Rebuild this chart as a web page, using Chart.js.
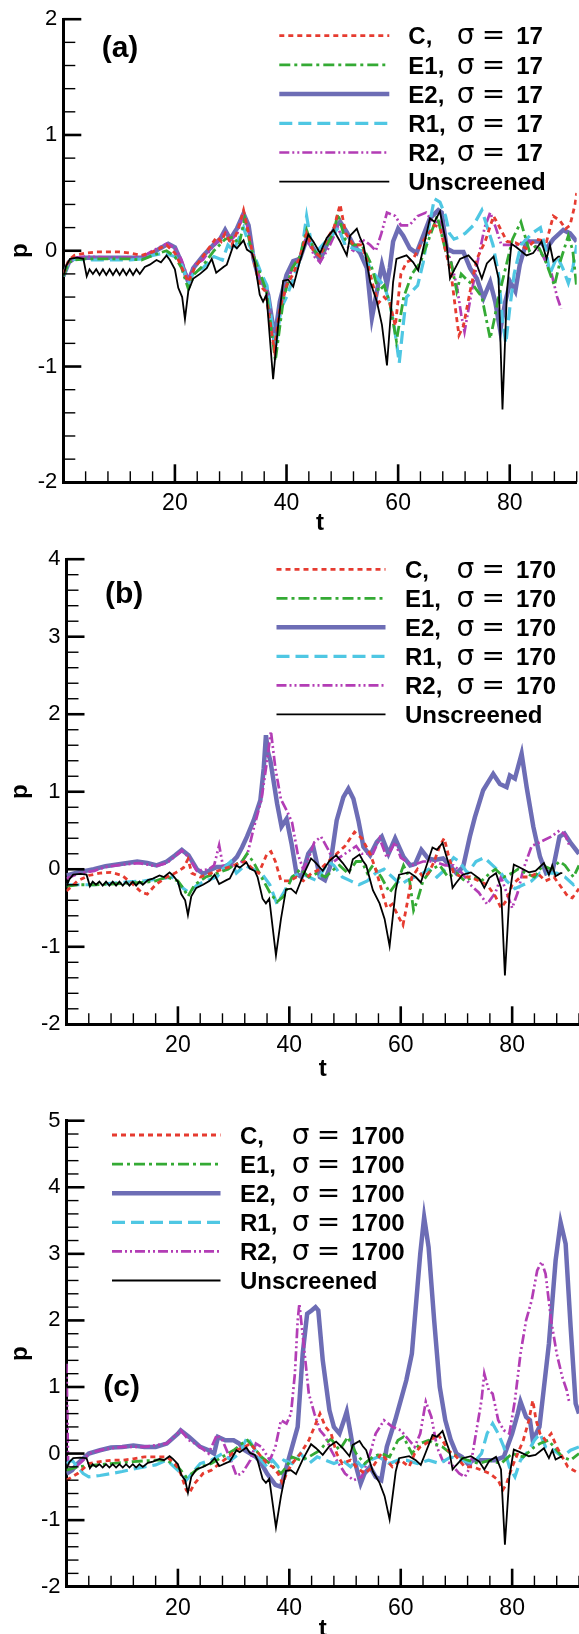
<!DOCTYPE html>
<html>
<head>
<meta charset="utf-8">
<script src="https://cdn.jsdelivr.net/npm/chart.js@4.4.0/dist/chart.umd.min.js"></script>
<style>
  body { margin: 0; background: #fff; width: 579px; height: 1634px; position: relative; overflow: hidden; }
  canvas { position: absolute; left: 0; }
</style>
</head>
<body>
<canvas id="chart-a" width="579" height="540" style="top:0px"></canvas>
<canvas id="chart-b" width="579" height="545" style="top:540px"></canvas>
<canvas id="chart-c" width="579" height="549" style="top:1085px"></canvas>
<script>
// ---- data: [t, p] pairs ----
const unscreened = [[0,-0.22],[0.5,-0.13],[1.2,-0.07],[2.5,-0.06],[3.6,-0.07],[4.2,-0.22],[4.7,-0.16],[5.3,-0.2],[5.9,-0.16],[6.5,-0.21],[7.1,-0.16],[7.7,-0.21],[8.3,-0.16],[8.9,-0.21],[9.5,-0.16],[10.1,-0.21],[10.7,-0.16],[11.3,-0.21],[11.9,-0.16],[12.5,-0.21],[13.1,-0.16],[13.7,-0.2],[14.6,-0.14],[15.5,-0.12],[16.7,-0.08],[17.5,-0.1],[18.5,-0.04],[19.1,-0.08],[20,-0.16],[20.6,-0.32],[21.3,-0.4],[21.8,-0.59],[22.4,-0.35],[23.3,-0.24],[24.5,-0.2],[25.7,-0.15],[26.6,-0.07],[27.4,-0.19],[28.7,-0.14],[29.3,-0.12],[30.5,0.05],[31.1,0.02],[32.3,0.09],[32.9,0.01],[33.8,-0.02],[34.3,-0.1],[35.2,-0.38],[35.8,-0.44],[36.4,-0.38],[37.6,-1.11],[38.5,-0.64],[39.4,-0.26],[40.3,-0.25],[41.2,-0.31],[42.4,-0.09],[43.9,0.14],[44.8,0.08],[46,-0.02],[47.2,0.11],[48.4,0.18],[49.6,0.08],[50.8,-0.04],[51.4,0.13],[52.6,0.19],[53.2,0.11],[53.8,0.05],[55,-0.27],[56.2,-0.44],[57.1,-0.64],[58,-0.99],[59.1,-0.27],[59.7,-0.07],[61.5,-0.04],[62.7,-0.1],[63.6,-0.17],[64.5,0.02],[65.7,0.28],[66.5,0.25],[67.5,0.34],[68.1,0.19],[68.7,0.05],[69.3,-0.24],[69.9,-0.18],[71.1,-0.07],[72.6,-0.04],[74.1,-0.12],[75,-0.24],[75.9,-0.11],[77.1,-0.05],[78,-0.24],[78.7,-1.37],[79.5,-0.35],[80.3,0.06],[81.2,0.03],[83,-0.04],[84.2,-0.02],[85.7,0.08],[86.6,-0.07],[87.2,0.05],[87.8,-0.09],[88.7,-0.05],[89,-0.05]];

// panel (a), sigma = 17
const aC = [[0,-0.2],[1,-0.08],[2,-0.04],[4,-0.02],[6,-0.01],[8,-0.01],[10,-0.01],[12,-0.02],[14,-0.04],[16,-0.01],[18.5,0.05],[20,-0.02],[21,-0.12],[22.4,-0.27],[23.5,-0.15],[25,-0.05],[26.5,0.05],[27.5,0.12],[28.3,0.08],[29,0.15],[30.2,0.05],[31.3,0.18],[32.3,0.35],[33.2,0.15],[34.2,-0.1],[35.2,-0.3],[36.2,-0.35],[37.8,-0.85],[38.8,-0.5],[40,-0.3],[41.2,-0.2],[42.4,-0.05],[43.6,0.15],[44.8,0],[46,-0.05],[47.2,0.1],[48.5,0.2],[49.6,0.4],[50.6,0.15],[52,0.05],[53.5,0.05],[54.5,-0.1],[55.5,-0.3],[56.5,-0.45],[57.5,-0.4],[58.5,-0.45],[59.5,-0.65],[60.5,-0.2],[61.5,-0.1],[62.7,-0.07],[64,0.05],[65.5,0.15],[66.5,0.22],[67.5,0.2],[68.5,0],[69.5,-0.2],[70.4,-0.55],[70.9,-0.73],[71.7,-0.65],[72.9,-0.35],[74.1,-0.07],[75.6,0.08],[77.1,0.3],[78,0.22],[79.5,0.08],[81,0.07],[83,0.02],[84.8,0.1],[86.6,0.08],[87.8,0.3],[89,0.26],[90,0.19],[90.8,0.22],[91.7,0.4],[92,0.5]];
const aE1 = [[0,-0.22],[1,-0.1],[2,-0.08],[4,-0.07],[8,-0.07],[12,-0.07],[14,-0.08],[16,-0.04],[18.5,0],[20,-0.05],[21.2,-0.15],[22.4,-0.33],[23.5,-0.2],[25,-0.13],[27,0],[29,0.1],[30.5,0.12],[31.5,0.05],[32.5,0.28],[33.5,0.05],[34.5,-0.1],[35.3,-0.2],[36.4,-0.35],[38,-0.95],[39.5,-0.4],[41,-0.15],[42.4,-0.05],[43.6,0.18],[45,0],[46,-0.05],[47.2,0.05],[48.4,0.15],[49.2,0.32],[50.5,0.1],[52,0.05],[53.5,0.05],[55,-0.1],[56.5,-0.35],[57.5,-0.3],[58.5,-0.45],[59.7,-0.78],[61,-0.4],[62.5,-0.2],[64,-0.1],[65.5,0.1],[67,0.3],[68.5,0],[69.5,-0.1],[70.5,-0.35],[71.3,-0.2],[72.3,-0.25],[73.5,-0.3],[75,-0.4],[76.5,-0.76],[77.2,-0.6],[78,-0.4],[79.5,-0.1],[80.5,0.1],[82,0.25],[83.5,0],[85,0.05],[86.5,-0.1],[88,-0.3],[89,-0.1],[90.5,0.13],[91.3,0],[92,-0.32]];
const aE2 = [[0,-0.22],[1,-0.1],[1.8,-0.07],[4,-0.06],[8,-0.06],[12,-0.06],[14,-0.06],[16,-0.02],[17.3,0.02],[18.8,0.06],[20,0.03],[20.9,-0.07],[22.4,-0.27],[23.3,-0.15],[25.1,-0.04],[26.9,0.05],[28.1,0.1],[29,0.18],[29.9,0.1],[31.1,0.19],[32.3,0.32],[33.2,0.22],[34.1,-0.07],[35.2,-0.27],[36.1,-0.29],[36.7,-0.38],[37.9,-0.75],[38.8,-0.44],[40,-0.21],[41.2,-0.09],[42.4,-0.07],[43.6,0.1],[44.8,0.02],[46,-0.08],[47.2,0.05],[48.7,0.2],[49.6,0.25],[50.8,0.16],[52,0.05],[53.2,-0.02],[54.4,-0.15],[55.3,-0.58],[56.2,-0.35],[57.1,-0.12],[58,-0.29],[58.5,-0.15],[59.1,0.08],[60,0.19],[60.9,0.13],[62.1,0.02],[63.3,-0.02],[64.5,0.13],[65.7,0.28],[67.2,0.35],[67.8,0.33],[68.7,0.02],[69.9,-0.01],[71.7,-0.01],[72.9,-0.15],[74.1,-0.24],[75.3,-0.41],[76.5,-0.27],[77.4,-0.44],[78.3,-0.69],[79.2,-0.44],[80.1,-0.27],[81,-0.35],[81.8,-0.12],[83,0.08],[85.4,0.08],[86.6,0.02],[87.8,0.1],[89.6,0.18],[90.8,0.15],[92,0.08]];
const aR1 = [[0,-0.22],[1,-0.1],[2,-0.07],[4,-0.08],[8,-0.08],[12,-0.08],[14,-0.07],[16,-0.04],[18,-0.02],[20,-0.05],[21.2,-0.12],[22.4,-0.28],[23.5,-0.18],[25,-0.15],[27,-0.05],[28.5,-0.08],[29.5,0.05],[30.5,0],[32.3,0.2],[33.3,0.05],[34.3,-0.05],[35.5,-0.2],[36.5,-0.3],[38,-0.85],[39,-0.5],[40,-0.4],[41.5,-0.2],[42.6,-0.05],[43.6,0.3],[44.5,0.05],[45.5,0],[47,0.08],[48.5,0.15],[49.3,0.2],[50.5,0.05],[52,0.02],[53.5,0],[55,-0.15],[56.5,-0.25],[57.5,-0.3],[58.5,-0.45],[59.3,-0.65],[60.2,-0.97],[61,-0.6],[61.5,-0.4],[62.5,-0.35],[63.5,-0.3],[64.5,-0.1],[65.5,0.2],[66.5,0.45],[67.5,0.42],[68.5,0.3],[69.2,0.15],[70,0.1],[71,0.12],[72,0.15],[73.5,0.22],[75,0.35],[76,0.2],[77,0.05],[78,-0.2],[78.7,-0.6],[79.3,-0.8],[80,-0.5],[80.8,-0.2],[82,0.05],[84,0.15],[85.5,0.2],[86.5,0],[87.2,-0.2],[88.5,-0.05],[89.5,-0.15],[90.5,-0.28],[91.3,-0.15],[92,0.05]];
const aR2 = [[0,-0.22],[1,-0.1],[2,-0.06],[4,-0.05],[8,-0.06],[12,-0.06],[14,-0.06],[16,0],[18.5,0.06],[20,0.03],[21.2,-0.08],[22.4,-0.25],[23.5,-0.12],[25,-0.08],[27,0.05],[28,0.1],[29,0.17],[30.2,0.1],[31.2,0.15],[32.3,0.33],[33.3,0.15],[34.3,-0.1],[35.5,-0.28],[36.5,-0.35],[37.9,-0.85],[39,-0.5],[40,-0.3],[41,-0.15],[42.4,-0.05],[43.6,0.13],[45,-0.05],[46,-0.1],[47.5,0.02],[49.2,0.2],[50.5,0.05],[52,0],[53.5,0.1],[55,0.05],[56,0],[57,0.15],[58,0.33],[59.5,0.3],[60.5,0.22],[62,0.22],[63.5,0.3],[65,0.33],[66.2,0.25],[67.5,0.25],[68.5,0.05],[69.5,-0.1],[70.5,-0.3],[71.3,-0.55],[71.9,-0.7],[73,-0.4],[74,-0.15],[75.5,0.2],[76.5,0.33],[77.5,0.2],[78.5,0.05],[80,0.05],[81.5,0.05],[83,0.1],[84.5,0.05],[86,-0.05],[87.5,-0.2],[88.5,-0.4],[89.2,-0.5]];

// panel (b), sigma = 170
const bC = [[0,-0.28],[2,-0.15],[4,-0.08],[6,-0.05],[8,-0.04],[10,-0.08],[12,-0.2],[13.5,-0.3],[14.5,-0.32],[16,-0.2],[18,-0.1],[19.5,-0.05],[21,0.02],[21.8,0.13],[22.5,-0.05],[24,-0.1],[26,-0.05],[28,0],[30,0.05],[32,0.1],[33.5,0],[34.5,-0.05],[36,0.2],[36.7,0.23],[37.5,0.1],[38.5,-0.15],[40,-0.15],[41.3,-0.1],[42.5,-0.15],[44,-0.05],[45.5,0],[47,0.1],[48.5,0.2],[50,0.3],[51.7,0.48],[53,0.4],[54.5,0.2],[55.5,0],[56.5,-0.25],[57.5,-0.5],[58.5,-0.45],[59.5,-0.6],[60.4,-0.72],[61,-0.5],[62,-0.1],[63,0],[64,-0.1],[65,-0.05],[66,0.1],[67,0.3],[67.8,0.4],[68.5,0.2],[69.5,-0.05],[71,-0.1],[72.5,-0.1],[74,-0.15],[75.5,-0.2],[77,-0.35],[78,-0.5],[79,-0.4],[80,-0.2],[81.5,-0.1],[83,-0.1],[84.5,-0.05],[86,-0.15],[87.5,-0.1],[88.5,-0.2],[90,-0.35],[90.8,-0.37],[92,-0.25]];
const bE1 = [[0,-0.22],[2,-0.2],[5,-0.2],[8,-0.19],[11,-0.18],[14,-0.17],[16,-0.15],[18,-0.1],[20,-0.15],[21,-0.25],[21.8,-0.35],[23,-0.2],[25,-0.1],[27,-0.05],[29,0],[30,0.05],[31.5,0.1],[32.4,0.2],[33.5,0.1],[35,-0.1],[36.5,-0.3],[37.8,-0.42],[39,-0.35],[40.5,-0.1],[42,0],[43.5,-0.1],[45,-0.05],[46.5,-0.1],[48,0],[49,0.05],[50.5,-0.05],[52,0.1],[53,0.1],[54,-0.05],[55,0.05],[56.5,-0.1],[58,-0.3],[59.5,-0.15],[60.5,0.05],[61.5,-0.1],[62.3,-0.53],[63,-0.4],[64,-0.15],[65.5,0],[67,0.05],[68.5,-0.1],[70,-0.05],[71.5,-0.15],[73,-0.1],[74.5,-0.15],[76,-0.05],[77,0],[78.5,-0.1],[80,-0.05],[81,0],[82.5,-0.05],[84,-0.1],[85.5,0.05],[87,0],[88.5,0.1],[89.5,0.05],[91,-0.1],[92,0.05]];
const bE2 = [[0,-0.08],[2,-0.04],[4.9,0],[7,0.04],[10,0.07],[12.7,0.1],[14.5,0.08],[16.2,0.05],[18,0.1],[19.5,0.18],[20.7,0.25],[21.9,0.18],[23.4,0],[24.6,-0.06],[25.8,-0.01],[27,0.03],[28.2,0.03],[29.4,0.07],[30.6,0.16],[31.5,0.28],[32.4,0.42],[33.6,0.63],[34.8,0.89],[35.4,1.3],[35.8,1.73],[36.2,1.5],[36.6,1.4],[37.8,0.85],[38.6,0.55],[39.5,0.65],[40.4,0.33],[41.3,-0.06],[42.2,-0.1],[43.4,0.2],[44.3,0.29],[45.5,-0.1],[46.4,-0.14],[47.3,0.03],[48.5,0.63],[49.7,0.93],[50.6,1.04],[51.5,0.91],[52.4,0.63],[53.3,0.29],[54.5,0.18],[55.7,0.35],[56.6,0.42],[57.8,0.2],[59,0.4],[60.5,0.16],[61.7,0.05],[62.6,0.07],[63.7,0.25],[64.9,0.14],[66.1,0.12],[67.6,0.14],[68.8,0.05],[70,-0.05],[71.2,0.03],[72.4,0.42],[73.3,0.67],[74.8,1.02],[76.6,1.23],[77.8,1.1],[79,1.06],[79.6,1.21],[80.5,1.17],[81.7,1.49],[82.6,1.06],[83.8,0.55],[85,0.16],[86.1,-0.05],[87.3,-0.01],[88.5,0.42],[89.4,0.46],[90.6,0.33],[92,0.2]];
const bR1 = [[0,-0.2],[2,-0.2],[5,-0.2],[10,-0.17],[14,-0.15],[17,-0.12],[19,-0.1],[21,-0.25],[22,-0.3],[23.5,-0.2],[25,-0.15],[27,-0.1],[28,0],[29.5,0.1],[30.5,-0.05],[32,0.05],[33.5,0],[35,-0.05],[36.5,-0.2],[37.8,-0.45],[39,-0.3],[40.5,-0.1],[42,-0.05],[43.5,-0.1],[45,-0.15],[47,0.1],[48,0.05],[49.5,-0.1],[51,-0.15],[52.5,-0.2],[54,-0.15],[55.5,-0.05],[57,0],[58.5,-0.1],[60,-0.2],[61,-0.15],[62.5,-0.1],[64,-0.05],[65,0],[66.5,-0.1],[68,0],[69.5,0.15],[70.5,0.1],[72,-0.05],[73.5,0.1],[75,0.15],[76.5,0.05],[78,-0.05],[79,-0.15],[80.5,-0.25],[82,-0.2],[83.5,-0.15],[85,-0.05],[86.5,-0.05],[88,-0.05],[89.5,-0.1],[91,-0.2],[92,-0.15]];
const bR2 = [[0,-0.12],[2,-0.06],[5,-0.02],[7,0.03],[10,0.06],[13,0.08],[16,0.04],[18,0.08],[20.7,0.24],[22,0.15],[23.4,-0.02],[25.5,0],[26.5,0.05],[27.4,0.31],[28.2,0],[30,0.05],[31.5,0.1],[32.5,0.2],[33.5,0.5],[35,0.9],[36,1.4],[36.7,1.78],[37.5,1.3],[38.5,0.9],[39.6,0.75],[40.5,0.6],[41.5,0.2],[42.5,0],[43.5,0.15],[44.5,0.35],[45.7,0.42],[47,0.25],[48,0.1],[50,0.2],[52,0.3],[53,0.2],[55,0.2],[56.2,0.4],[57.5,0.15],[59,0.35],[60,0.15],[62,0.05],[64,0.1],[66,0.1],[68,0.05],[69.5,0.05],[71,-0.05],[72.5,-0.2],[74,-0.3],[75.5,-0.45],[77,-0.3],[78,-0.1],[79,-0.3],[80,-0.5],[81,-0.3],[82,0],[83.5,0.3],[85,0.35],[87,0.42],[88.5,0.5],[89.5,0.45],[90.3,0.3]];

// panel (c), sigma = 1700
const cC = [[0,-0.4],[2,-0.3],[4,-0.15],[6,-0.12],[8,-0.1],[10,-0.1],[12,-0.08],[14,-0.05],[16,-0.05],[18,-0.05],[19.5,-0.15],[20.5,-0.3],[21.5,-0.55],[22,-0.6],[23,-0.45],[24.5,-0.3],[26,-0.25],[27.5,-0.15],[29,-0.05],[30.5,0.05],[32,0.1],[33,0.15],[34,0.05],[35,-0.05],[36,-0.15],[37,-0.2],[38,-0.3],[38.8,-0.45],[39.5,-0.3],[40.5,-0.15],[42,0],[43.5,0.2],[44.5,0.4],[45.5,0.6],[46.5,0.4],[47.5,0.3],[48.5,0],[49.5,-0.15],[51,-0.1],[52,-0.2],[53.5,-0.3],[55,-0.2],[56.5,0],[57.5,-0.1],[58.5,-0.2],[60,-0.1],[61.5,-0.2],[62.5,0],[63.5,0.1],[64.5,0.15],[65.5,0.2],[66.5,0.3],[67.5,0.2],[68.5,0.05],[70,-0.05],[71.5,-0.2],[73,-0.2],[74.5,-0.25],[76,-0.3],[77.5,-0.4],[78.3,-0.55],[79,-0.45],[80,-0.2],[81,0],[82,0.2],[83,0.5],[83.7,0.8],[84.3,0.5],[85,0.3],[86,0.2],[87,0.3],[88,0.1],[89,-0.05],[90,-0.2],[91,-0.25],[92,-0.3]];
const cE1 = [[0,-0.25],[2,-0.2],[4,-0.18],[8,-0.15],[12,-0.12],[16,-0.1],[18,-0.1],[20,-0.2],[21.5,-0.35],[22.5,-0.3],[24,-0.2],[26,-0.15],[28,-0.05],[30,0.05],[31.5,0.15],[32.5,0.2],[33.5,0.1],[35,-0.05],[36.5,-0.15],[38.5,-0.3],[39.5,-0.2],[40.5,-0.05],[42,-0.1],[43.5,-0.05],[45.5,0.05],[46.5,0.15],[47.5,0.22],[49,0.05],[50.5,0.25],[52,0],[53.5,-0.15],[55,-0.05],[56.5,0],[58,-0.05],[59.5,0.2],[60.5,0.25],[62,0],[63.5,0.15],[65,0.2],[66,0.15],[67.5,0.1],[69,0],[70.5,-0.05],[72,-0.1],[74,-0.15],[76,-0.1],[78,-0.15],[80,0],[82,-0.05],[84,0.1],[85,0.15],[86.5,0.2],[87.5,0.1],[89,-0.05],[90.5,-0.1],[92,0]];
const cE2 = [[0,-0.3],[1,-0.25],[2,-0.15],[4,0],[6,0.05],[8,0.09],[10,0.1],[12,0.12],[14,0.1],[16,0.1],[18,0.15],[20,0.3],[20.5,0.35],[22,0.25],[24,0.1],[25.5,0.05],[26.5,0],[27.2,0.25],[28.5,0.2],[30,0.2],[31,0.15],[32,0.05],[33,0],[34,-0.05],[35,-0.15],[36,-0.3],[37.5,-0.47],[38.5,-0.5],[39.5,-0.2],[40.5,0.1],[41.5,0.4],[42.4,1.5],[43.2,2.1],[44,2.15],[44.7,2.2],[45.2,2.15],[46,1.4],[47.2,0.65],[48,0.4],[49,0.3],[50,0.55],[50.3,0.63],[51,0.3],[52,-0.2],[52.8,-0.45],[53.5,-0.3],[54.5,-0.2],[55.5,-0.35],[56.5,-0.4],[57.5,0.1],[59,0.5],[60,0.8],[61,1.1],[62,1.5],[63,2.5],[63.5,3],[64.2,3.55],[65,3.1],[66,2],[67,1],[68,0.5],[69,0.2],[70,0],[71,-0.05],[72,-0.15],[73,-0.1],[75,-0.1],[77,-0.1],[78.5,-0.05],[80,0.3],[81,0.6],[81.5,0.78],[82.5,0.55],[83.2,0.5],[83.7,0.2],[84.9,0.4],[86.6,1.65],[87.8,2.9],[88.7,3.47],[89.6,3.15],[90.5,1.9],[91.4,0.75],[92,0.6]];
const cR1 = [[0,-0.15],[1,-0.1],[2,-0.2],[3,-0.3],[4,-0.35],[6,-0.33],[8,-0.3],[10,-0.27],[12,-0.23],[14,-0.2],[16,-0.17],[18,-0.1],[20,-0.25],[21.5,-0.4],[22.5,-0.3],[24,-0.15],[26,-0.1],[28,0],[29.5,-0.1],[31,0],[32.5,0.25],[33.5,0.1],[35,-0.1],[36,-0.2],[37,-0.1],[38,-0.2],[39,-0.1],[40.5,-0.15],[42,0],[43.5,-0.15],[45,-0.05],[46.5,-0.1],[48,-0.15],[49.5,-0.1],[51,-0.2],[52,-0.1],[53,-0.2],[54.5,-0.1],[56,-0.05],[58,-0.15],[59.5,-0.1],[61,-0.1],[63,-0.15],[65,-0.1],[67,-0.15],[69,-0.05],[71,-0.1],[73,-0.15],[74.5,0],[75.5,0.3],[76.5,0.45],[77.5,0.3],[78.5,0.1],[79.5,-0.2],[80.5,-0.35],[81.5,-0.1],[83,0.05],[84,0.2],[85,0.3],[86,0.1],[87.5,0.05],[89,-0.05],[90.5,0.05],[92,0.1]];
const cR2 = [[0,1.35],[0.3,-0.2],[1,-0.25],[3,-0.1],[4,0],[6,0.05],[8,0.08],[10,0.1],[14,0.1],[18,0.15],[20.5,0.35],[22,0.2],[24,0.1],[25.5,0],[27,0.28],[28,0.2],[29.5,-0.1],[30.5,-0.33],[31.5,-0.3],[33,-0.1],[34,0.15],[35,0.1],[36.5,-0.1],[37.5,0.1],[38.5,0.5],[39.5,0.45],[40.3,0.6],[41,1.2],[41.5,2],[41.8,2.25],[42.5,1.7],[43.5,0.9],[44.5,0.6],[45.5,0.35],[46.5,0.25],[47.5,0.05],[48.5,-0.1],[50,-0.3],[51.5,-0.4],[53,-0.35],[54.5,0],[55.5,0.3],[57,0.5],[58.5,0.4],[60,0.35],[61.5,0.2],[62.5,0.1],[63.5,0.3],[64.5,0.78],[65.5,0.55],[66.5,0.1],[67.5,-0.1],[69,-0.15],[70.5,-0.3],[71.5,-0.35],[72.5,-0.2],[73.5,0.3],[74.5,0.8],[75,1.2],[75.8,0.95],[76.5,0.9],[77.5,0.5],[78.5,0.35],[79.5,0.3],[80.5,0.8],[81.5,1.5],[82.5,2],[83.5,2.3],[84.5,2.75],[85.3,2.88],[86,2.7],[87,2],[88,1.5],[89,1.15],[89.8,0.95],[90.3,0.75]];

const tTicks = [20, 40, 60, 80];
const pTicksA = [-2, -1, 0, 1, 2];
const pTicksB = [-2, -1, 0, 1, 2, 3, 4];
const pTicksC = [-2, -1, 0, 1, 2, 3, 4, 5];
const seriesNames = ['C,', 'E1,', 'E2,', 'R1,', 'R2,', 'Unscreened'];

// ---- styles ----
const FONT = "'Liberation Sans', Arial, sans-serif";
const styles = [
  { color: '#e63b30', width: 2.8, dash: [5, 4], order: 1 },
  { color: '#34aa34', width: 2.8, dash: [11, 4, 3, 4], order: 2 },
  { color: '#6d6db5', width: 4.5, dash: [], order: 5 },
  { color: '#4fc7e3', width: 3.2, dash: [13, 6], order: 3 },
  { color: '#b33db5', width: 2.7, dash: [10, 3, 2, 3, 2, 3], order: 4 },
  { color: '#000000', width: 1.8, dash: [], order: 0 },
];

function decor(cfg) {
  return {
    id: 'decor',
    afterDraw(chart) {
      const { ctx, chartArea: area, scales: { x, y } } = chart;
      ctx.save();
      ctx.strokeStyle = '#000';
      // inward tick marks
      for (let t = 4; t <= 92; t += 4) {
        const px = x.getPixelForValue(t);
        const major = t % 20 === 0;
        ctx.lineWidth = major ? 2.6 : 1.4;
        ctx.beginPath();
        ctx.moveTo(px, area.bottom);
        ctx.lineTo(px, area.bottom - (major ? 18 : 11));
        ctx.stroke();
      }
      const n = Math.round((y.max - y.min) / 0.2);
      for (let k = 1; k <= n; k++) {
        const py = y.getPixelForValue(y.min + k * 0.2);
        const major = k % 5 === 0;
        ctx.lineWidth = major ? 2.6 : 1.4;
        ctx.beginPath();
        ctx.moveTo(area.left, py);
        ctx.lineTo(area.left + (major ? 18 : 12), py);
        ctx.stroke();
      }
      // legend
      const L = cfg.legend;
      chart.data.datasets.forEach((ds, i) => {
        const ry = L.top + i * L.step;
        ctx.strokeStyle = ds.borderColor;
        ctx.lineWidth = ds.borderWidth;
        ctx.setLineDash(ds.borderDash || []);
        ctx.beginPath();
        ctx.moveTo(L.x0, ry);
        ctx.lineTo(L.x1, ry);
        ctx.stroke();
        ctx.setLineDash([]);
        ctx.fillStyle = '#000';
        ctx.textBaseline = 'alphabetic';
        ctx.textAlign = 'left';
        const base = ry + 8.6;
        ctx.font = 'bold 24px ' + FONT;
        ctx.fillText(ds.label, L.name, base);
        if (i < 5) {
          ctx.font = "28px 'DejaVu Sans', sans-serif";
          ctx.fillText('σ', L.sigma, base);
          ctx.fillText('=', L.sigma + 25, base);
          ctx.font = 'bold 24px ' + FONT;
          ctx.fillText(cfg.sigma, L.sigma + 59.5, base);
        }
      });
      // panel label
      ctx.font = 'bold 30px ' + FONT;
      ctx.fillText(cfg.tag, cfg.tagX, cfg.tagY);
      ctx.restore();
    }
  };
}

function makePanel(id, cfg) {
  const datasets = cfg.series.map((s, i) => ({
    label: seriesNames[i],
    data: s.map(([t, p]) => ({ x: t, y: p })),
    borderColor: styles[i].color,
    borderWidth: styles[i].width,
    borderDash: styles[i].dash,
    order: styles[i].order,
    pointRadius: 0,
    fill: false,
    tension: 0,
  }));
  new Chart(document.getElementById(id), {
    type: 'line',
    data: { datasets },
    options: {
      responsive: false,
      animation: false,
      events: [],
      layout: { padding: { top: cfg.padTop, right: cfg.padRight, left: 0, bottom: 0 } },
      plugins: { legend: { display: false }, tooltip: { enabled: false } },
      scales: {
        x: {
          type: 'linear', min: 0, max: 92,
          afterBuildTicks: s => { s.ticks = tTicks.map(v => ({ value: v })); },
          afterFit: s => { s.height = cfg.xHeight; },
          grid: { display: false, drawTicks: false },
          border: { display: true, width: 3, color: '#000' },
          ticks: { color: '#000', font: { family: FONT, size: 23 }, padding: 8, maxRotation: 0, autoSkip: false },
          title: { display: true, text: 't', color: '#000', font: { family: FONT, size: 24, weight: 'bold' }, padding: { top: 0, bottom: cfg.tPad } },
        },
        y: {
          type: 'linear', min: cfg.pTicks[0], max: cfg.pTicks[cfg.pTicks.length - 1],
          afterBuildTicks: s => { s.ticks = cfg.pTicks.map(v => ({ value: v })); },
          afterFit: s => { s.width = cfg.axisX; },
          grid: { display: false, drawTicks: false },
          border: { display: true, width: 3, color: '#000' },
          ticks: { color: '#000', font: { family: FONT, size: 22 }, padding: 6, autoSkip: false },
          title: { display: true, text: 'p', color: '#000', font: { family: FONT, size: 24, weight: 'bold' }, padding: { top: 6, bottom: 0 } },
        },
      },
    },
    plugins: [decor(cfg)],
  });
}

makePanel('chart-a', {
  series: [aC, aE1, aE2, aR1, aR2, unscreened], pTicks: pTicksA, sigma: '17',
  padTop: 15.7, padRight: 2.3, axisX: 63.3, xHeight: 540 - 482.3, tPad: 2,
  legend: { x0: 279.3, x1: 389.3, top: 35.7, step: 29.2, name: 408.3, sigma: 456.7 },
  tag: '(a)', tagX: 101.7, tagY: 57,
});
makePanel('chart-b', {
  series: [bC, bE1, bE2, bR1, bR2, unscreened], pTicks: pTicksB, sigma: '170',
  padTop: 19, padRight: 0, axisX: 66.5, xHeight: 545 - 484.3, tPad: 1,
  legend: { x0: 276.5, x1: 385.5, top: 29.3, step: 29, name: 405, sigma: 456.5 },
  tag: '(b)', tagX: 105, tagY: 62.7,
});
makePanel('chart-c', {
  series: [cC, cE1, cE2, cR1, cR2, unscreened], pTicks: pTicksC, sigma: '1700',
  padTop: 35.7, padRight: 0, axisX: 66.5, xHeight: 549 - 501.7, tPad: -10,
  legend: { x0: 112, x1: 220.5, top: 50, step: 29.1, name: 240, sigma: 291.7 },
  tag: '(c)', tagX: 103.3, tagY: 311,
});
</script>
</body>
</html>
